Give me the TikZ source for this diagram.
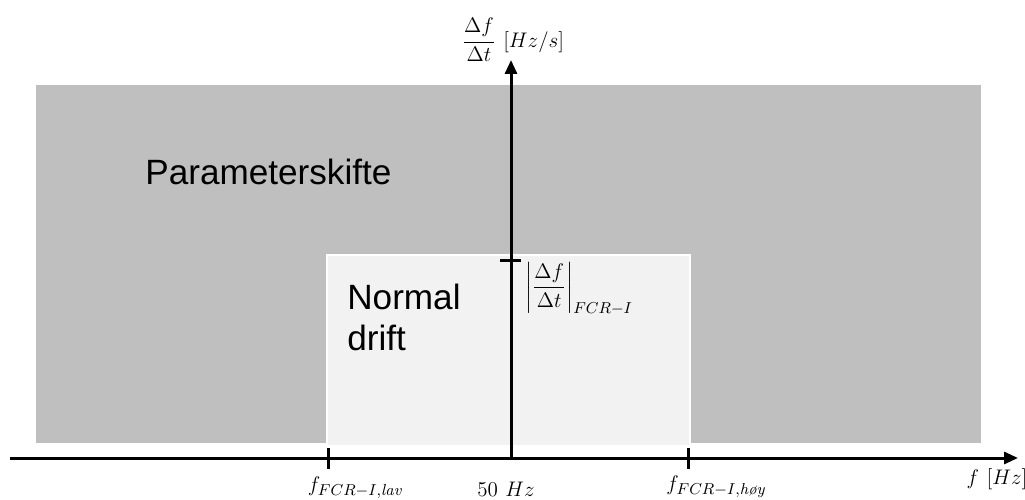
\documentclass[tikz,border=0pt]{standalone}
\usepackage{amsmath}
\usepackage{fontspec}
\newfontfamily\zonefont{Liberation Sans}
\usetikzlibrary{arrows.meta,positioning}

\definecolor{zonegray}{RGB}{191,191,191}
\definecolor{normalgray}{RGB}{242,242,242}

\tikzset{
  axis/.style={line width=0.06cm, black},
  zonetext/.style={font=\zonefont\fontsize{20}{23.3}\selectfont, align=left, inner sep=0pt},
  mathlabel/.style={font=\fontsize{13}{16}\selectfont, inner sep=0pt}
}

\begin{document}
\begin{tikzpicture}[x=0.02cm, y=-0.02cm, >={Triangle[length=0.28cm, width=0.24cm]}]

\useasboundingbox (0,0) rectangle (1025,500);

% Zones
\fill[zonegray] (36,85) rectangle (981,443);
\draw[white, line width=0.045cm, fill=normalgray] (327,255) rectangle (690,446);

\node[zonetext, anchor=west] (param) at (145,172) {Parameterskifte};
\node[zonetext, anchor=north west] (normal) at (347,284) {Normal\\drift};

% Axes
\coordinate (xstart) at (10,458);
\coordinate (xend) at (1018,458);
\coordinate (origin) at (511,458);
\coordinate (yend) at (511,60);
\draw[axis, ->] (xstart) -- (xend);
\draw[axis, ->] (origin) -- (yend);

% Ticks
\coordinate (lavtop) at (328,448);
\coordinate (lavbot) at (328,469);
\coordinate (hoytop) at (688,448);
\coordinate (hoybot) at (688,469);
\coordinate (rateleft) at (500,260);
\coordinate (rateright) at (521,260);
\draw[axis] (lavtop) -- (lavbot);
\draw[axis] (hoytop) -- (hoybot);
\draw[axis] (rateleft) -- (rateright);

% Labels
\node[mathlabel] (ylab) at (513,40) {$\dfrac{\Delta f}{\Delta t}\ [Hz/s]$};
\node[mathlabel, anchor=north west] (ratelab) at (525,262) {$\left|\dfrac{\Delta f}{\Delta t}\right|_{FCR-I}$};
\node[mathlabel] (xlab) at (997,479) {$f\ [Hz]$};
\node[mathlabel] (nominal) at (506,489) {$50\ Hz$};
\node[mathlabel] (lavlab) at (355,488) {$f_{FCR-I,\textit{lav}}$};
\node[mathlabel] (hoylab) at (716,487) {$f_{FCR-I,\textit{høy}}$};

\end{tikzpicture}
\end{document}
